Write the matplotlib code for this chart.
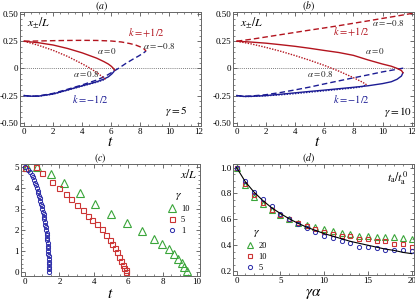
import matplotlib
matplotlib.use('Agg')
import matplotlib.pyplot as plt
from matplotlib.ticker import MultipleLocator, FixedLocator, FixedFormatter

plt.rcParams['font.family'] = 'serif'
plt.rcParams['font.serif'] = ['Liberation Serif', 'DejaVu Serif']
plt.rcParams['mathtext.fontset'] = 'stix'

# ---------------- data: panel (a), gamma = 5 ----------------
a_red_solid_t = [0, 1, 2, 3, 4, 5, 5.5, 5.8, 6.0, 6.15, 6.22]
a_red_solid_x = [0.25, 0.236, 0.215, 0.183, 0.143, 0.094, 0.062, 0.04, 0.02, 0.0, -0.015]
a_blue_solid_t = [0, 0.5, 1, 2, 3, 4, 5, 5.5, 5.8, 6.05, 6.18, 6.22]
a_blue_solid_x = [-0.25, -0.256, -0.255, -0.235, -0.198, -0.16, -0.123, -0.098, -0.078, -0.05, -0.03, -0.015]
a_red_dot_t = [0, 1, 2, 3, 4, 4.5, 5.0, 5.3, 5.6]
a_red_dot_x = [0.25, 0.212, 0.166, 0.11, 0.042, 0.005, -0.037, -0.068, -0.1]
a_blue_dot_t = [0, 0.5, 1, 2, 3, 4, 5, 5.6]
a_blue_dot_x = [-0.25, -0.257, -0.256, -0.237, -0.2, -0.163, -0.127, -0.1]
a_red_dash_t = [0, 1, 2, 3, 4, 5, 6, 6.7, 7.3, 7.7, 8.0, 8.25, 8.4]
a_red_dash_x = [0.25, 0.252, 0.255, 0.257, 0.258, 0.257, 0.252, 0.243, 0.228, 0.214, 0.198, 0.18, 0.16]
a_blue_dash_t = [0, 0.5, 1, 2, 3, 4, 5, 5.6, 6.0, 6.5, 7.0, 7.5, 7.9, 8.2, 8.4]
a_blue_dash_x = [-0.25, -0.257, -0.253, -0.23, -0.192, -0.152, -0.107, -0.072, -0.04, 0.0, 0.045, 0.085, 0.115, 0.14, 0.16]

# ---------------- data: panel (b), gamma = 10 ----------------
b_red_dash_t = [0, 1, 2, 3, 4, 5, 6, 7, 8, 9, 10, 11, 12.2]
b_red_dash_x = [0.25, 0.268, 0.289, 0.31, 0.331, 0.352, 0.372, 0.393, 0.415, 0.437, 0.46, 0.482, 0.51]
b_red_solid_t = [0, 1, 2, 3, 4, 5, 6, 7, 8, 9, 10, 10.6, 11.0, 11.3, 11.4]
b_red_solid_x = [0.25, 0.242, 0.232, 0.218, 0.203, 0.185, 0.165, 0.146, 0.12, 0.078, 0.04, 0.02, 0.0, -0.02, -0.04]
b_blue_solid_t = [0, 0.5, 1, 2, 3, 4, 5, 6, 7, 8, 9, 10, 10.6, 11.0, 11.3, 11.4]
b_blue_solid_x = [-0.25, -0.258, -0.257, -0.25, -0.238, -0.225, -0.212, -0.2, -0.187, -0.174, -0.16, -0.14, -0.123, -0.1, -0.07, -0.04]
b_red_dot_t = [0, 1, 2, 3, 4, 5, 6, 7, 8, 8.6, 8.9]
b_red_dot_x = [0.25, 0.225, 0.193, 0.158, 0.118, 0.075, 0.028, -0.025, -0.085, -0.125, -0.15]
b_blue_dot_t = [0, 0.5, 1, 2, 3, 4, 5, 6, 7, 8, 8.6, 8.9]
b_blue_dot_x = [-0.25, -0.259, -0.258, -0.252, -0.243, -0.232, -0.219, -0.206, -0.193, -0.18, -0.168, -0.15]
b_blue_dash_t = [0, 0.5, 1, 2, 3, 4, 5, 6, 7, 8, 9, 10, 11, 11.5]
b_blue_dash_x = [-0.25, -0.257, -0.254, -0.242, -0.222, -0.198, -0.172, -0.143, -0.115, -0.087, -0.06, -0.032, -0.008, 0.004]

# ---------------- data: panel (c) ----------------
c_g1_x = [5.0, 4.875, 4.75, 4.625, 4.5, 4.375, 4.25, 4.125, 4.0, 3.875, 3.75, 3.625, 3.5, 3.375,
          3.25, 3.125, 3.0, 2.875, 2.75, 2.625, 2.5, 2.375, 2.25, 2.125, 2.0, 1.875, 1.75, 1.625,
          1.5, 1.375, 1.25, 1.125, 1.0, 0.875, 0.75, 0.625, 0.5, 0.375, 0.25, 0.125, 0.0]
c_g1_t = [0.0, 0.15, 0.27, 0.39, 0.45, 0.51, 0.57, 0.62, 0.67, 0.73, 0.78, 0.82, 0.86, 0.90,
          0.94, 0.97, 1.01, 1.04, 1.08, 1.10, 1.13, 1.15, 1.18, 1.20, 1.22, 1.25, 1.27, 1.29,
          1.30, 1.32, 1.33, 1.34, 1.35, 1.36, 1.37, 1.38, 1.39, 1.40, 1.40, 1.41, 1.41]
c_g5_t = [0.0, 0.64, 0.97, 1.59, 1.99, 2.36, 2.69, 3.04, 3.39, 3.64, 3.92, 4.20, 4.46, 4.71,
          4.94, 5.08, 5.23, 5.35, 5.47, 5.60, 5.68, 5.78, 5.85, 5.87]
c_g5_x = [4.95, 4.99, 4.70, 4.30, 4.02, 3.71, 3.46, 3.19, 2.94, 2.68, 2.48, 2.27, 2.03, 1.76,
          1.52, 1.33, 1.13, 0.94, 0.73, 0.52, 0.35, 0.20, 0.08, 0.0]
c_g10_t = [0.10, 0.68, 1.49, 2.27, 3.20, 4.07, 4.98, 5.91, 6.78, 7.50, 7.98, 8.37, 8.66, 8.91, 9.11, 9.26, 9.40]
c_g10_x = [4.98, 4.98, 4.67, 4.25, 3.75, 3.22, 2.76, 2.32, 1.97, 1.56, 1.32, 1.08, 0.84, 0.62, 0.43, 0.25, 0.05]

# ---------------- data: panel (d) ----------------
d_ga = [0, 1, 2, 3, 4, 5, 6, 7, 8, 9, 10, 11, 12, 13, 14, 15, 16, 17, 18, 19, 20]
d_g20 = [1.0, 0.865, 0.775, 0.72, 0.67, 0.63, 0.60, 0.575, 0.555, 0.54, 0.525, 0.51, 0.495, 0.485,
         0.47, 0.47, 0.465, 0.46, 0.46, 0.455, 0.45]
d_g10 = [1.0, 0.87, 0.785, 0.725, 0.675, 0.635, 0.60, 0.57, 0.55, 0.525, 0.505, 0.49, 0.475, 0.47,
         0.45, 0.445, 0.43, 0.43, 0.41, 0.41, 0.39]
d_g5 = [1.0, 0.895, 0.815, 0.755, 0.70, 0.645, 0.605, 0.565, 0.53, 0.505, 0.475, 0.455, 0.43, 0.415,
        0.39, 0.385, 0.38, 0.365, 0.36, 0.36, 0.355]
d_theory = [1.0, 0.89, 0.81, 0.745, 0.69, 0.645, 0.605, 0.57, 0.54, 0.515, 0.49, 0.47, 0.45, 0.43,
            0.415, 0.40, 0.385, 0.37, 0.36, 0.345, 0.335]

RED = '#b3141e'
BLUE = '#1c1c94'
GREEN = '#3aa53a'
SQRED = '#cc3535'
CBLUE = '#2a2aa8'

W, H = 415.0, 302.0
fig = plt.figure(figsize=(4.15, 3.02), dpi=100)


def box(l, r, t, b):
    return [l / W, 1 - b / H, (r - l) / W, (b - t) / H]


def style(ax):
    ax.tick_params(which='both', direction='in', top=True, right=True,
                   labelsize=6.5, color='#555555', labelcolor='black', pad=1.2)
    ax.tick_params(which='major', length=3, width=0.6)
    ax.tick_params(which='minor', length=1.6, width=0.5)
    for s in ax.spines.values():
        s.set_linewidth(0.7)
        s.set_color('#666666')


def xpm_axes(ax):
    ax.set_xlim(-0.28, 12.18)
    ax.set_ylim(-0.53, 0.516)
    ax.xaxis.set_major_locator(MultipleLocator(2))
    ax.xaxis.set_minor_locator(MultipleLocator(0.5))
    ax.yaxis.set_major_locator(FixedLocator([-0.5, -0.25, 0, 0.25, 0.5]))
    ax.yaxis.set_major_formatter(FixedFormatter(['-0.50', '-0.25', '0', '0.25', '0.50']))
    ax.yaxis.set_minor_locator(MultipleLocator(0.05))
    ax.axhline(0, color='#555555', lw=0.6, ls=(0, (1, 1.5)), zorder=1)
    style(ax)


lw = 1.0
# ---- (a) ----
axa = fig.add_axes(box(20, 201, 12.3, 126))
xpm_axes(axa)
axa.plot(a_blue_dash_t, a_blue_dash_x, color=BLUE, lw=lw, ls=(0, (4, 2.2)))
axa.plot(a_blue_solid_t, a_blue_solid_x, color=BLUE, lw=lw)
axa.plot(a_blue_dot_t, a_blue_dot_x, color=BLUE, lw=lw, ls=(0, (1, 1)))
axa.plot(a_red_dash_t, a_red_dash_x, color=RED, lw=lw, ls=(0, (4, 2.2)))
axa.plot(a_red_solid_t, a_red_solid_x, color=RED, lw=lw)
axa.plot(a_red_dot_t, a_red_dot_x, color=RED, lw=lw, ls=(0, (1, 1)))
axa.text(0.2, 0.415, r'$x_{\pm}/L$', fontsize=8.5, va='center', ha='left')
axa.text(8.43, 0.325, r'$k=+1/2$', fontsize=7.5, color=RED, ha='center', va='center')
axa.text(9.3, 0.21, r'$\alpha=-0.8$', fontsize=6.5, color='#222222', ha='center', va='center')
axa.text(5.7, 0.16, r'$\alpha=0$', fontsize=6.5, color='#222222', ha='center', va='center')
axa.text(4.3, -0.05, r'$\alpha=0.8$', fontsize=6.5, color='#222222', ha='center', va='center')
axa.text(4.6, -0.28, r'$k=-1/2$', fontsize=7.5, color=BLUE, ha='center', va='center')
axa.text(10.5, -0.395, r'$\gamma=5$', fontsize=8, ha='center', va='center')

# ---- (b) ----
axb = fig.add_axes(box(232.7, 414.3, 12.3, 126))
xpm_axes(axb)
axb.plot(b_blue_dash_t, b_blue_dash_x, color=BLUE, lw=lw, ls=(0, (4, 2.2)))
axb.plot(b_blue_solid_t, b_blue_solid_x, color=BLUE, lw=lw)
axb.plot(b_blue_dot_t, b_blue_dot_x, color=BLUE, lw=lw, ls=(0, (1, 1)))
axb.plot(b_red_dash_t, b_red_dash_x, color=RED, lw=lw, ls=(0, (4, 2.2)))
axb.plot(b_red_solid_t, b_red_solid_x, color=RED, lw=lw)
axb.plot(b_red_dot_t, b_red_dot_x, color=RED, lw=lw, ls=(0, (1, 1)))
axb.text(0.2, 0.415, r'$x_{\pm}/L$', fontsize=8.5, va='center', ha='left')
axb.text(10.43, 0.415, r'$\alpha=-0.8$', fontsize=6.5, color='#222222', ha='center', va='center')
axb.text(7.87, 0.334, r'$k=+1/2$', fontsize=7.5, color=RED, ha='center', va='center')
axb.text(9.46, 0.157, r'$\alpha=0$', fontsize=6.5, color='#222222', ha='center', va='center')
axb.text(5.7, -0.052, r'$\alpha=0.8$', fontsize=6.5, color='#222222', ha='center', va='center')
axb.text(7.9, -0.28, r'$k=-1/2$', fontsize=7.5, color=BLUE, ha='center', va='center')
axb.text(12.05, -0.40, r'$\gamma=10$', fontsize=8, ha='right', va='center')

# ---- (c) ----
axc = fig.add_axes(box(20.7, 200, 164, 276))
axc.set_xlim(-0.25, 10.17)
axc.set_ylim(-0.19, 5.14)
axc.xaxis.set_major_locator(MultipleLocator(2))
axc.xaxis.set_minor_locator(MultipleLocator(0.5))
axc.yaxis.set_major_locator(MultipleLocator(1))
axc.yaxis.set_minor_locator(MultipleLocator(0.2))
style(axc)
h10, = axc.plot(c_g10_t, c_g10_x, ls='none', marker='^', ms=5.2, mfc='none', mec=GREEN, mew=0.8, label='10')
h5, = axc.plot(c_g5_t, c_g5_x, ls='none', marker='s', ms=3.6, mfc='none', mec=SQRED, mew=0.8, label='5')
h1, = axc.plot(c_g1_t, c_g1_x, ls='none', marker='o', ms=3.0, mfc='none', mec=CBLUE, mew=0.7, label='1')
axc.text(10.0, 4.62, r'$x/L$', fontsize=8.5, ha='right', va='center')
axc.legend(handles=[h10, h5, h1], title=r'$\gamma$', loc='upper left',
           bbox_to_anchor=(0.80, 0.81), frameon=False, fontsize=6, title_fontsize=8.5,
           handlelength=1.0, handletextpad=0.5, labelspacing=0.35, borderpad=0)

# ---- (d) ----
axd = fig.add_axes(box(233.3, 414.3, 164, 275))
axd.set_xlim(-0.38, 20.3)
axd.set_ylim(0.17, 1.028)
axd.xaxis.set_major_locator(MultipleLocator(5))
axd.xaxis.set_minor_locator(MultipleLocator(1))
axd.yaxis.set_major_locator(FixedLocator([0.2, 0.4, 0.6, 0.8, 1.0]))
axd.yaxis.set_major_formatter(FixedFormatter(['0.2', '0.4', '0.6', '0.8', '1.0']))
axd.yaxis.set_minor_locator(MultipleLocator(0.05))
style(axd)
axd.plot(d_ga, d_theory, color='black', lw=0.8, zorder=3)
g20, = axd.plot(d_ga, d_g20, ls='none', marker='^', ms=5.0, mfc='none', mec=GREEN, mew=0.8, label='20')
g10, = axd.plot(d_ga, d_g10, ls='none', marker='s', ms=3.5, mfc='none', mec=SQRED, mew=0.8, label='10')
g5, = axd.plot(d_ga, d_g5, ls='none', marker='o', ms=3.0, mfc='none', mec=CBLUE, mew=0.7, label='5')
axd.text(19.6, 0.92, r'$t_{\rm a}/t_{\rm a}^{0}$', fontsize=8.5, ha='right', va='center')
axd.legend(handles=[g20, g10, g5], title=r'$\gamma$', loc='upper left',
           bbox_to_anchor=(0.045, 0.48), frameon=False, fontsize=6, title_fontsize=8.5,
           handlelength=1.0, handletextpad=0.5, labelspacing=0.35, borderpad=0)

# ---- titles & axis labels ----
def ftext(px, py, s, **kw):
    fig.text(px / W, 1 - py / H, s, ha='center', va='center', **kw)

ftext(101.7, 6, r'$(a)$', fontsize=7)
ftext(308, 6, r'$(b)$', fontsize=7)
ftext(100, 158, r'$(c)$', fontsize=7)
ftext(308, 158, r'$(d)$', fontsize=7)
ftext(110, 142, r'$t$', fontsize=11)
ftext(317, 142, r'$t$', fontsize=11)
ftext(110, 295, r'$t$', fontsize=11)
ftext(313, 294, r'$\gamma\alpha$', fontsize=11)

fig.savefig('out.png', dpi=100)
